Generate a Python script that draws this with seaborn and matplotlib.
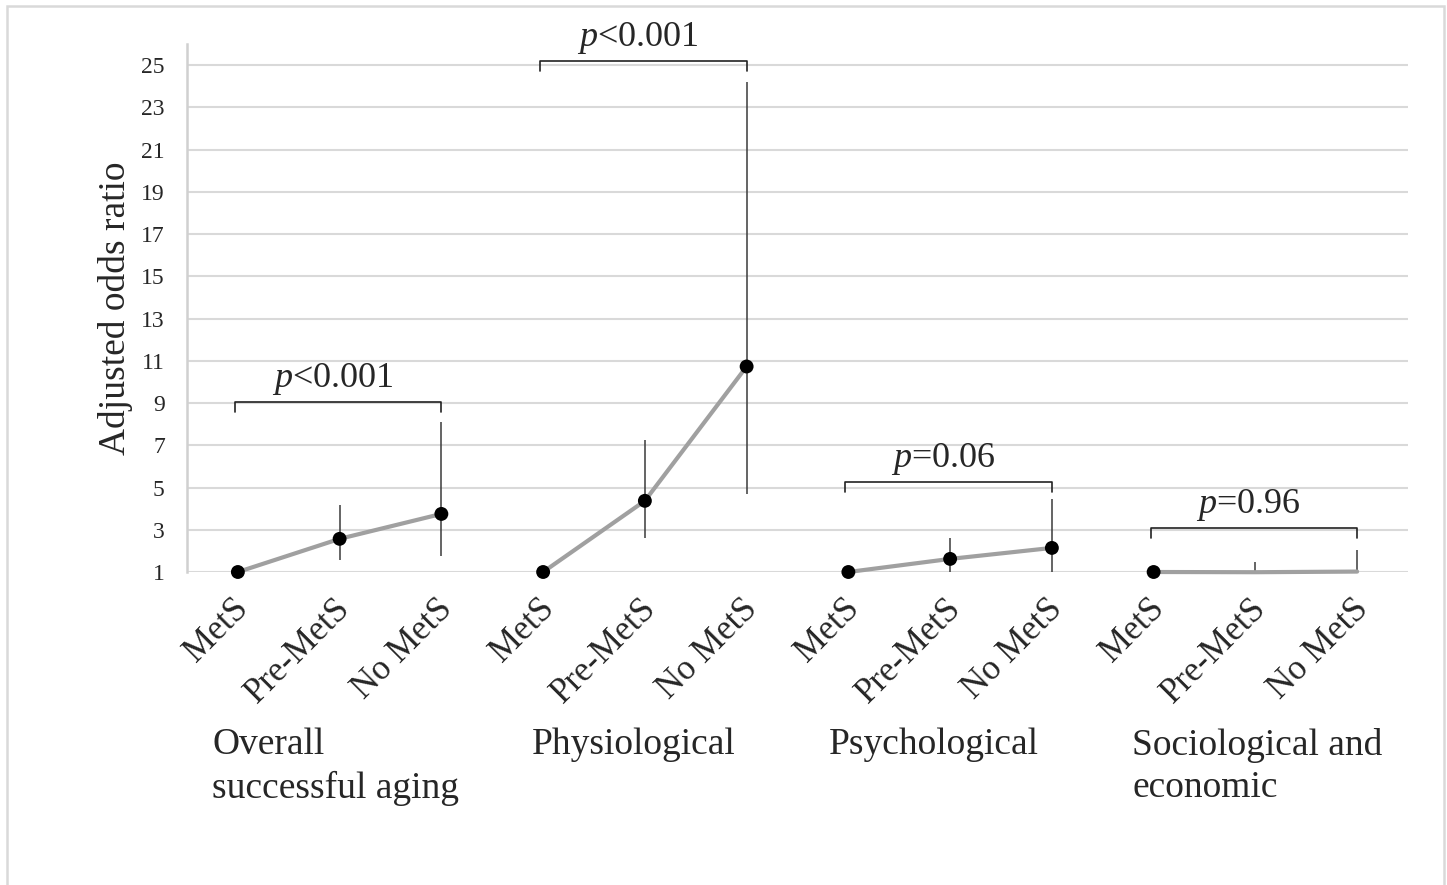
import matplotlib
matplotlib.use("Agg")
import matplotlib.pyplot as plt
import matplotlib.transforms as mtransforms
from matplotlib.patches import Rectangle
import numpy as np
import pandas as pd
import seaborn as sns

# ---------------- data ----------------
groups = ["Overall\nsuccessful aging", "Physiological", "Psychological",
          "Sociological and\neconomic"]
categories = ["MetS", "Pre-MetS", "No MetS"]

or_overall = [1.0, 2.57, 3.75]
lo_overall = [1.0, 1.57, 1.76]
hi_overall = [1.0, 4.18, 8.12]

or_physio = [1.0, 4.37, 10.73]
lo_physio = [1.0, 2.61, 4.70]
hi_physio = [1.0, 7.26, 24.20]

or_psych = [1.0, 1.62, 2.14]
lo_psych = [1.0, 1.00, 1.00]
hi_psych = [1.0, 2.61, 4.46]

or_socio = [1.0, 0.99, 1.02]
lo_socio = [1.0, 0.60, 0.55]
hi_socio = [1.0, 1.47, 2.04]

# whether a marker is shown for each point (reference hides some)
marker_socio = [True, False, False]

p_labels = [("p", "<0.001"), ("p", "<0.001"), ("p", "=0.06"), ("p", "=0.96")]
bracket_levels = [9.06, 25.2, 5.27, 3.09]

y_ticks = list(range(1, 26, 2))

# ---------------- build table ----------------
all_or = [or_overall, or_physio, or_psych, or_socio]
all_lo = [lo_overall, lo_physio, lo_psych, lo_socio]
all_hi = [hi_overall, hi_physio, hi_psych, hi_socio]
all_mk = [[True] * 3, [True] * 3, [True] * 3, marker_socio]

rows = []
for gi, g in enumerate(groups):
    for ci, c in enumerate(categories):
        rows.append(dict(group=g, gidx=gi, cat=c, pos=gi * 3 + ci,
                         OR=all_or[gi][ci], lo=all_lo[gi][ci],
                         hi=all_hi[gi][ci], marker=all_mk[gi][ci]))
df = pd.DataFrame(rows)

# ---------------- plot ----------------
sns.set_theme(style="white")
serif = ["Liberation Serif", "DejaVu Serif"]
plt.rcParams["font.family"] = serif
plt.rcParams["mathtext.fontset"] = "custom"
plt.rcParams["mathtext.rm"] = "Liberation Serif"
plt.rcParams["mathtext.it"] = "Liberation Serif:italic"

W, H = 1447, 885
fig = plt.figure(figsize=(W / 100, H / 100), dpi=100)
ax = fig.add_axes([187 / W, 1 - 572 / H, (1408 - 187) / W, (572 - 44) / H])

# error bars
ax.vlines(df["pos"], df["lo"], df["hi"], color="#3a3a3a", lw=1.1, zorder=2)

# lines
sns.lineplot(data=df, x="pos", y="OR", units="group", estimator=None,
             color="#a0a0a0", lw=3.0, ax=ax, zorder=3, clip_on=False)
for l in ax.lines:
    l.set_clip_on(False)
# markers
mk = df[df["marker"]]
sns.scatterplot(data=mk, x="pos", y="OR", color="black", s=100,
                marker="o", edgecolor="none", ax=ax, zorder=4, clip_on=False)

ax.set_xlim(-0.5, 11.5)
ax.set_ylim(1, 26)
ax.set_yticks(y_ticks)
ax.set_yticklabels([str(t) for t in y_ticks], fontsize=17)
ax.yaxis.grid(True, color="#d9d9d9", lw=1.5)
ax.set_axisbelow(True)
ax.tick_params(axis="both", length=0)
ax.tick_params(axis="y", pad=16)
for s in ["top", "right", "bottom"]:
    ax.spines[s].set_visible(False)
ax.spines["left"].set_color("#d0d0d0")
ax.spines["left"].set_linewidth(1.8)

ax.set_xticks(df["pos"])
ax.set_xticklabels(df["cat"], rotation=45, ha="right", va="center",
                   rotation_mode="anchor", fontsize=25)
ax.tick_params(axis="x", pad=23)
shift = mtransforms.ScaledTranslation(6 / 100, 0, fig.dpi_scale_trans)
for lbl in ax.get_xticklabels():
    lbl.set_transform(lbl.get_transform() + shift)
ax.set_xlabel("")
ax.set_ylabel("Adjusted odds ratio", fontsize=27, labelpad=6)

# brackets and p labels
for gi in range(len(groups)):
    x0, x1 = gi * 3 - 0.03, gi * 3 + 2.0
    yb = bracket_levels[gi]
    ax.plot([x0, x0, x1, x1], [yb - 0.47, yb, yb, yb - 0.47],
            color="#222222", lw=1.2, clip_on=False, zorder=5)
    pi, rest = p_labels[gi]
    ax.text((x0 + x1) / 2 - 0.05, yb + 0.7, f"$\\it{{{pi}}}$" + rest,
            ha="center", va="baseline", fontsize=26, clip_on=False)

# group labels
label_offsets = [-0.25, -0.11, -0.19, -0.21]
trans = mtransforms.blended_transform_factory(ax.transData, ax.transAxes)
for gi, g in enumerate(groups):
    ax.text(gi * 3 + label_offsets[gi], -0.295, g, transform=trans,
            ha="left", va="top", fontsize=27, linespacing=1.3)

# outer frame
fig.patches.append(Rectangle((7 / W, -0.02), (1444 - 7) / W, 1.02 - 6 / H,
                             transform=fig.transFigure, fill=False,
                             edgecolor="#d9d9d9", lw=1.8))

fig.savefig("out.png", dpi=100)
